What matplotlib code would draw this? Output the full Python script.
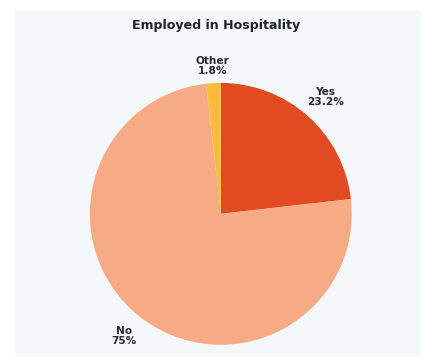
import numpy as np
import matplotlib
matplotlib.use("Agg")
import matplotlib.pyplot as plt
from matplotlib.patches import Rectangle

labels = ["Yes", "No", "Other"]
shares = [23.2, 75.0, 1.8]
pct_text = ["23.2%", "75%", "1.8%"]
colors = ["#e24a22", "#f6ab84", "#fbbb3c"]

plt.rcParams["font.family"] = ["DejaVu Sans"]

fig = plt.figure(figsize=(4.3, 3.6), dpi=100)
fig.patch.set_facecolor("white")
fig.patches.append(Rectangle((0.036, 0.008), 0.944, 0.964, transform=fig.transFigure,
                             facecolor="#f5f8fb", edgecolor="none", zorder=-1))

ax = fig.add_axes([0.209, 0.042, 0.609, 0.728])
wedges, _ = ax.pie(shares, colors=colors, startangle=90, counterclock=False,
                   wedgeprops=dict(linewidth=0))
ax.set_xlim(-1, 1)
ax.set_ylim(-1, 1)
ax.set_aspect("equal")

dists = [1.2, 1.19, 1.13]
for w, lab, pct, d in zip(wedges, labels, pct_text, dists):
    ang = np.deg2rad((w.theta1 + w.theta2) / 2)
    ax.text(d * np.cos(ang), d * np.sin(ang), f"{lab}\n{pct}", ha="center", va="center",
            fontsize=7.6, fontweight="bold", color="#2a2a2a", linespacing=1.0, clip_on=False)

fig.text(0.503, 0.93, "Employed in Hospitality", ha="center", va="center",
         fontsize=9.1, fontweight="bold", color="#222222")

fig.savefig("out.png", dpi=100)
